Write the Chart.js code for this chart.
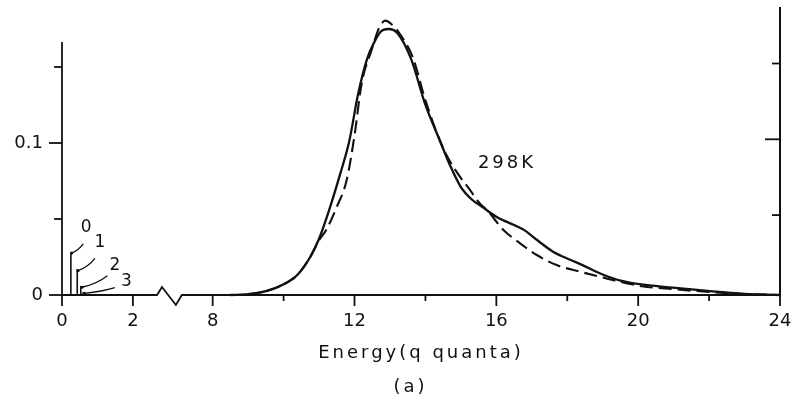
<!DOCTYPE html>
<html>
<head>
<meta charset="utf-8">
<script src="https://cdn.jsdelivr.net/npm/chart.js@4.4.1/dist/chart.umd.min.js"></script>
<style>
  body { margin: 0; background: #fff; }
  canvas { display: block; }
</style>
</head>
<body>
<canvas id="energyChart" width="797" height="400"></canvas>
<script>
// Energy distribution at 298K, energies in q quanta
const solidEnergy = [8.5, 9.0, 9.5, 10.0, 10.4, 10.75, 11.0, 11.3, 11.6, 11.85, 12.1, 12.35, 12.55, 12.75, 12.95, 13.2, 13.6, 14.0, 14.4, 14.7, 15.0, 15.3, 15.6, 16.0, 16.5, 16.8, 17.1, 17.6, 18.1, 18.4, 19.0, 19.5, 20.2, 21.2, 22.1, 23.0, 23.6, 24.0];
const solidValue = [0, 0.0005, 0.0025, 0.007, 0.0135, 0.025, 0.037, 0.057, 0.08, 0.101, 0.132, 0.155, 0.166, 0.1735, 0.175, 0.1725, 0.155, 0.125, 0.102, 0.085, 0.071, 0.063, 0.058, 0.0515, 0.046, 0.0425, 0.037, 0.0285, 0.023, 0.020, 0.0135, 0.0095, 0.0066, 0.0044, 0.0024, 0.0008, 0.0002, 0];

const dashedEnergy = [9.0, 9.5, 10.0, 10.4, 10.75, 11.0, 11.2, 11.5, 11.78, 12.0, 12.2, 12.48, 12.7, 12.87, 13.05, 13.3, 13.65, 14.0, 14.5, 14.88, 15.26, 15.54, 15.73, 16.2, 16.67, 17.14, 17.7, 18.36, 19.0, 19.4, 20.1, 21.0, 22.0, 23.0, 24.0];
const dashedValue = [0.0005, 0.0025, 0.007, 0.0135, 0.025, 0.036, 0.0428, 0.058, 0.0757, 0.105, 0.139, 0.161, 0.176, 0.1805, 0.178, 0.171, 0.156, 0.128, 0.0965, 0.081, 0.069, 0.060, 0.056, 0.0428, 0.034, 0.0263, 0.0197, 0.0153, 0.0115, 0.0092, 0.0058, 0.0038, 0.002, 0.0007, 0];

// sticks near zero energy, labelled 0..3
const stickEnergy = [0.25, 0.43, 0.53, 0.6];
const stickValue = [0.0275, 0.017, 0.006, 0.002];
const stickLabels = ['0', '1', '2', '3'];
const stickLabelAt = [[0.68, 0.0441], [1.07, 0.0342], [1.49, 0.0191], [1.82, 0.0087]];
const stickLeaders = [[0.60, 0.0336, 0.27, 0.0276], [0.93, 0.0241, 0.45, 0.0160], [1.28, 0.0127, 0.56, 0.0051], [1.49, 0.0048, 0.63, 0.0011]];

const curveLabel = '298K';
const curveLabelAt = [15.48, 0.0868];

const xMajorTicks = [0, 2, 8, 12, 16, 20, 24];
const xMinorTicks = [10, 14, 18, 22];
const yMajorTicks = [0, 0.1];
const yMinorTicks = [0.05, 0.15];
const rightTicks = [1, 2, 3];

// the energy axis is broken between these two values
const breakStart = 2.68;
const breakEnd = 7.13;
const breakGap = 3.75;

const yTop = 0.1888;
const leftAxisTop = 0.1664;
const ink = '#111';
const fontFamily = '"DejaVu Sans", sans-serif';

function toAxis(e) { return e >= breakEnd ? e - breakGap : e; }
function fromAxis(u) { return u > breakStart ? u + breakGap : u; }

function points(energy, value) {
    return energy.map((e, i) => ({ x: toAxis(e), y: value[i] }));
}

function stickPoints() {
    const pts = [];
    stickEnergy.forEach((e, i) => {
        pts.push({ x: toAxis(e), y: 0 }, { x: toAxis(e), y: stickValue[i] }, { x: toAxis(e), y: null });
    });
    return pts;
}

function strokeLine(ctx, x0, y0, x1, y1) {
    ctx.beginPath();
    ctx.moveTo(x0, y0);
    ctx.lineTo(x1, y1);
    ctx.stroke();
}

// axis lines, the break in the energy axis, tick marks of two lengths, y labels
const axisDecor = {
    id: 'axisDecor',
    beforeDraw(chart) { chart.ctx.letterSpacing = '3px'; },
    beforeDatasetsDraw(chart) { chart.ctx.letterSpacing = '0px'; },
    afterDraw(chart) {
        const { ctx, chartArea, scales: { x, y, y2 } } = chart;
        const base = y.getPixelForValue(0);
        ctx.save();
        ctx.strokeStyle = ink;
        ctx.fillStyle = ink;
        ctx.lineWidth = 1.8;

        strokeLine(ctx, chartArea.left, base, chartArea.left, y.getPixelForValue(leftAxisTop));

        const b0 = x.getPixelForValue(toAxis(breakStart));
        const b1 = x.getPixelForValue(toAxis(breakEnd));
        const w = b1 - b0;
        ctx.beginPath();
        ctx.moveTo(chartArea.left, base);
        ctx.lineTo(b0, base);
        ctx.lineTo(b0 + w * 0.2, base - 8);
        ctx.lineTo(b0 + w * 0.76, base + 10);
        ctx.lineTo(b1, base);
        ctx.lineTo(chartArea.right, base);
        ctx.stroke();

        x.ticks.forEach(t => {
            const px = x.getPixelForValue(t.value);
            const major = xMajorTicks.includes(Math.round(fromAxis(t.value)));
            strokeLine(ctx, px, base, px, base + (major ? 11 : 6));
        });

        ctx.font = '18px ' + fontFamily;
        ctx.textAlign = 'right';
        ctx.textBaseline = 'middle';
        y.ticks.forEach(t => {
            const py = y.getPixelForValue(t.value);
            const label = yMajorTicks.find(v => Math.abs(v - t.value) < 1e-9);
            strokeLine(ctx, chartArea.left, py, chartArea.left - (label !== undefined ? 13 : 8), py);
            if (label !== undefined) ctx.fillText(String(label), chartArea.left - 19, py);
        });
        y2.ticks.forEach(t => {
            const py = y2.getPixelForValue(t.value);
            strokeLine(ctx, chartArea.right, py, chartArea.right - (t.value === 2 ? 15 : 8), py);
        });
        ctx.restore();
    }
};

// temperature label and the numbered leaders to the sticks
const curveNotes = {
    id: 'curveNotes',
    afterDatasetsDraw(chart) {
        const { ctx, scales: { x, y } } = chart;
        ctx.save();
        ctx.fillStyle = ink;
        ctx.strokeStyle = ink;
        ctx.lineWidth = 1.3;
        ctx.letterSpacing = '3px';
        ctx.font = '18px ' + fontFamily;
        ctx.textAlign = 'left';
        ctx.textBaseline = 'middle';
        ctx.fillText(curveLabel, x.getPixelForValue(toAxis(curveLabelAt[0])), y.getPixelForValue(curveLabelAt[1]));

        ctx.letterSpacing = '0px';
        ctx.font = '17px ' + fontFamily;
        ctx.textAlign = 'center';
        stickLabels.forEach((label, i) => {
            ctx.fillText(label, x.getPixelForValue(stickLabelAt[i][0]), y.getPixelForValue(stickLabelAt[i][1]));
            const [e0, v0, e1, v1] = stickLeaders[i];
            const sx = x.getPixelForValue(e0), sy = y.getPixelForValue(v0);
            const ex = x.getPixelForValue(e1), ey = y.getPixelForValue(v1);
            ctx.beginPath();
            ctx.moveTo(sx, sy);
            ctx.quadraticCurveTo(sx * 0.6 + ex * 0.4, sy * 0.3 + ey * 0.7, ex, ey);
            ctx.stroke();
            ctx.beginPath();
            ctx.arc(ex, ey, 1.6, 0, Math.PI * 2);
            ctx.fill();
        });
        ctx.restore();
    }
};

const xTickValues = xMajorTicks.concat(xMinorTicks).map(toAxis).sort((a, b) => a - b);

new Chart(document.getElementById('energyChart'), {
    type: 'line',
    data: {
        datasets: [{
            label: 'solid',
            data: points(solidEnergy, solidValue),
            borderColor: ink,
            borderWidth: 2.3,
            pointRadius: 0,
            cubicInterpolationMode: 'monotone',
            clip: false
        }, {
            label: 'dashed',
            data: points(dashedEnergy, dashedValue),
            borderColor: ink,
            borderWidth: 2.1,
            borderDash: [13, 6],
            pointRadius: 0,
            cubicInterpolationMode: 'monotone',
            clip: false
        }, {
            label: 'sticks',
            data: stickPoints(),
            borderColor: ink,
            borderWidth: 1.6,
            pointRadius: 0,
            spanGaps: false
        }]
    },
    options: {
        responsive: false,
        animation: false,
        // negative right padding moves the centre of the caption to the right
        layout: { padding: { left: 0, top: 8, right: -24, bottom: 0 } },
        plugins: {
            legend: { display: false },
            tooltip: { enabled: false },
            title: {
                display: true,
                position: 'bottom',
                text: '(a)',
                color: ink,
                font: { family: fontFamily, size: 18, weight: 'normal' },
                padding: { top: 0, bottom: 1.4 }
            }
        },
        scales: {
            x: {
                type: 'linear',
                min: 0,
                max: toAxis(24),
                afterBuildTicks: scale => { scale.ticks = xTickValues.map(v => ({ value: v })); },
                afterFit: scale => {
                    scale.height = 82;
                    scale.paddingLeft = 0;
                    scale.paddingRight = 0;
                },
                grid: { display: false, drawTicks: false },
                border: { display: false },
                ticks: {
                    z: 1,
                    autoSkip: false,
                    maxRotation: 0,
                    padding: 16,
                    color: ink,
                    font: { family: fontFamily, size: 18 },
                    callback: v => {
                        const e = Math.round(fromAxis(v));
                        return xMajorTicks.includes(e) ? String(e) : '';
                    }
                },
                title: {
                    display: true,
                    text: 'Energy(q quanta)',
                    color: ink,
                    font: { family: fontFamily, size: 18 },
                    padding: { top: 0, bottom: 13 }
                }
            },
            y: {
                min: 0,
                max: yTop,
                afterBuildTicks: scale => { scale.ticks = yMajorTicks.concat(yMinorTicks).sort().map(v => ({ value: v })); },
                afterFit: scale => { scale.width = 62; },
                grid: { display: false, drawTicks: false },
                border: { display: false },
                ticks: { display: false }
            },
            y2: {
                position: 'right',
                min: -0.054,
                max: 3.732,
                afterBuildTicks: scale => { scale.ticks = rightTicks.map(v => ({ value: v })); },
                afterFit: scale => { scale.width = 41; },
                grid: { display: false, drawTicks: false },
                border: { display: true, color: ink, width: 2 },
                ticks: { display: false }
            }
        }
    },
    plugins: [axisDecor, curveNotes]
});
</script>
</body>
</html>
